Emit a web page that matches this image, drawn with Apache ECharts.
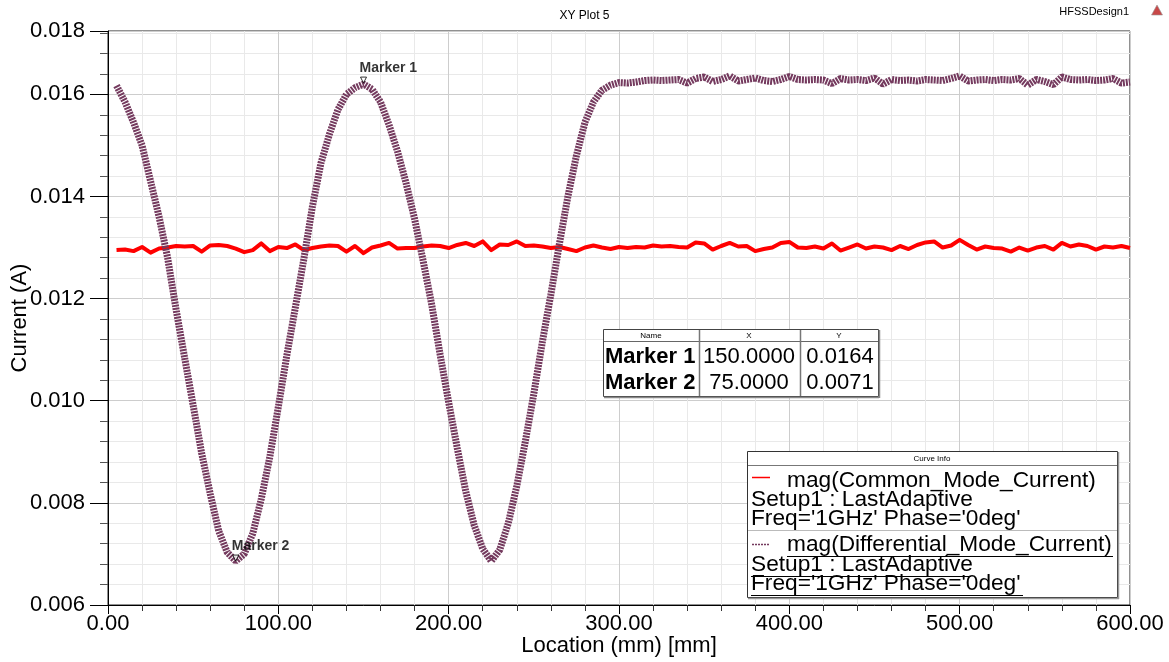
<!DOCTYPE html>
<html><head><meta charset="utf-8">
<script src="https://cdn.jsdelivr.net/npm/echarts@6/dist/echarts.min.js"></script>
<style>html,body{margin:0;padding:0;background:#fff}#c{width:1169px;height:662px}</style>
</head><body><div id="c"></div>
<script>
const locations = [
  5,10,15,20,25,30,35,40,45,50,
  55,60,65,70,75,80,85,90,95,100,
  105,110,115,120,125,130,135,140,145,150,
  155,160,165,170,175,180,185,190,195,200,
  205,210,215,220,225,230,235,240,245,250,
  255,260,265,270,275,280,285,290,295,300,
  305,310,315,320,325,330,335,340,345,350,
  355,360,365,370,375,380,385,390,395,400,
  405,410,415,420,425,430,435,440,445,450,
  455,460,465,470,475,480,485,490,495,500,
  505,510,515,520,525,530,535,540,545,550,
  555,560,565,570,575,580,585,590,595,600
];
const commonMode = [
  0.01295,0.01296,0.01293,0.01301,0.01290,0.01298,0.01300,0.01303,0.01302,0.01303,
  0.01292,0.01304,0.01305,0.01303,0.01298,0.01291,0.01295,0.01308,0.01293,0.01301,
  0.01299,0.01306,0.01295,0.01299,0.01302,0.01304,0.01303,0.01292,0.01303,0.01289,
  0.01300,0.01304,0.01309,0.01298,0.01299,0.01299,0.01302,0.01304,0.01303,0.01299,
  0.01305,0.01309,0.01303,0.01312,0.01295,0.01306,0.01305,0.01312,0.01303,0.01304,
  0.01302,0.01299,0.01301,0.01297,0.01293,0.01300,0.01304,0.01300,0.01297,0.01301,
  0.01299,0.01301,0.01300,0.01304,0.01302,0.01303,0.01301,0.01300,0.01310,0.01308,
  0.01296,0.01303,0.01309,0.01302,0.01303,0.01293,0.01297,0.01300,0.01309,0.01311,
  0.01300,0.01299,0.01302,0.01298,0.01308,0.01294,0.01300,0.01306,0.01298,0.01302,
  0.01300,0.01295,0.01303,0.01297,0.01305,0.01310,0.01312,0.01300,0.01304,0.01315,
  0.01305,0.01296,0.01302,0.01299,0.01298,0.01292,0.01300,0.01294,0.01300,0.01303,
  0.01296,0.01309,0.01302,0.01306,0.01303,0.01296,0.01302,0.01300,0.01303,0.01299
];
const diffMode = [
  0.01617,0.01585,0.01545,0.01500,0.01430,0.01360,0.01280,0.01178,0.01084,0.00991,
  0.00897,0.00818,0.00745,0.00703,0.00686,0.00700,0.00740,0.00808,0.00890,0.00988,
  0.01089,0.01183,0.01278,0.01380,0.01465,0.01522,0.01570,0.01600,0.01613,0.01620,
  0.01610,0.01585,0.01540,0.01488,0.01426,0.01356,0.01274,0.01189,0.01090,0.00997,
  0.00908,0.00823,0.00756,0.00710,0.00686,0.00708,0.00760,0.00833,0.00920,0.01014,
  0.01115,0.01208,0.01307,0.01400,0.01480,0.01545,0.01585,0.01608,0.01618,0.01623,
  0.01622,0.01624,0.01627,0.01628,0.01627,0.01628,0.01629,0.01622,0.01631,0.01634,
  0.01625,0.01629,0.01636,0.01626,0.01629,0.01632,0.01627,0.01625,0.01629,0.01635,
  0.01629,0.01628,0.01629,0.01628,0.01621,0.01631,0.01628,0.01629,0.01627,0.01632,
  0.01620,0.01629,0.01627,0.01628,0.01626,0.01629,0.01628,0.01627,0.01631,0.01636,
  0.01626,0.01628,0.01629,0.01627,0.01629,0.01628,0.01631,0.01618,0.01629,0.01625,
  0.01619,0.01634,0.01629,0.01628,0.01629,0.01627,0.01628,0.01631,0.01622,0.01624
];
const xTickLabels = ['0.00','100.00','200.00','300.00','400.00','500.00','600.00'];
const yTickLabels = ['0.006','0.008','0.010','0.012','0.014','0.016','0.018'];
const xMin = 0, xMax = 600, xStep = 100;
const yMin = 0.006, yMax = 0.01724, yStep = 0.002, yMinorStep = 0.0004;
const markerNames = ['Marker 1','Marker 2'];
const markerX = [150, 75];
const markerY = [0.01622, 0.00686];
const markerTableX = ['150.0000','75.0000'];
const markerTableY = ['0.0164','0.0071'];
const curveNames = ['mag(Common_Mode_Current)','mag(Differential_Mode_Current)'];
const curveInfo = ['Setup1 : LastAdaptive',"Freq='1GHz' Phase='0deg'"];
const titleText = 'XY Plot 5';
const designText = 'HFSSDesign1';
const xName = 'Location (mm) [mm]';
const yName = 'Current (A)';

const FONT = '"Liberation Sans", Arial, Helvetica, sans-serif';
const RED = '#ff0000';
const PURPLE = '#743a5e';

const chart = echarts.init(document.getElementById('c'), null, {renderer: 'canvas'});

function txt(x, y, s, size, opt) {
  return Object.assign({type: 'text', x: x, y: y, z: 100, style: Object.assign({
    text: s, fontSize: size, fontFamily: FONT, fill: '#000',
    textAlign: 'left', textVerticalAlign: 'middle'
  }, opt || {})});
}
function ln(x1, y1, x2, y2, stroke, w, dash) {
  return {type: 'line', z: 100, shape: {x1, y1, x2, y2},
    style: {stroke: stroke, lineWidth: w || 1, lineDash: dash || null}};
}

const graphics = [];
graphics.push(txt(1129, 12, designText, 11, {textAlign: 'right'}));
graphics.push({type: 'polygon', z: 100, shape: {points: [[1157, 5], [1162.5, 15], [1151.5, 15]]},
  style: {fill: '#c84848', stroke: '#999', lineWidth: 0.6}});

// Marker table
graphics.push({type: 'rect', z: 99, shape: {x: 603.5, y: 329.5, width: 275, height: 67},
  style: {fill: '#fff', stroke: '#444', lineWidth: 1}});
graphics.push(ln(604, 397.5, 879, 397.5, '#888', 1.5));
graphics.push(ln(879.5, 330, 879.5, 398, '#888', 1.5));
graphics.push(ln(604, 341.5, 878, 341.5, '#666', 1));
graphics.push(ln(699.5, 330, 699.5, 396, '#777', 1.5));
graphics.push(ln(800.5, 330, 800.5, 396, '#777', 1.5));
graphics.push(txt(651, 336, 'Name', 8, {textAlign: 'center'}));
graphics.push(txt(749, 336, 'X', 8, {textAlign: 'center'}));
graphics.push(txt(839, 336, 'Y', 8, {textAlign: 'center'}));
const rowY = [357, 383];
for (let i = 0; i < markerNames.length; i++) {
  graphics.push(txt(605, rowY[i], markerNames[i], 22, {fontWeight: 'bold'}));
  graphics.push(txt(749, rowY[i], markerTableX[i], 22, {textAlign: 'center'}));
  graphics.push(txt(840, rowY[i], markerTableY[i], 22, {textAlign: 'center'}));
}

// Curve info box
graphics.push({type: 'rect', z: 99, shape: {x: 747.5, y: 451.5, width: 370, height: 146},
  style: {fill: '#fff', stroke: '#333', lineWidth: 1}});
graphics.push(ln(1118.5, 452, 1118.5, 599, '#999', 1.5));
graphics.push(ln(748, 598.5, 1119, 598.5, '#999', 1.5));
graphics.push(ln(748, 465.5, 1117, 465.5, '#777', 1));
graphics.push(txt(932, 458.5, 'Curve Info', 8, {textAlign: 'center'}));
graphics.push(ln(752, 477.5, 770, 477.5, RED, 1.5));
graphics.push(txt(787, 481, curveNames[0], 22.7));
graphics.push(txt(751, 500, curveInfo[0], 22.7));
graphics.push(txt(751, 519, curveInfo[1], 22.7));
graphics.push(ln(748, 530.5, 1117, 530.5, '#bbb', 1));
graphics.push(ln(752, 544.5, 770, 544.5, PURPLE, 1.5, [2, 1]));
graphics.push(txt(787, 545, curveNames[1], 22.7));
graphics.push(ln(787, 556.5, 1113, 556.5, '#000', 1));
graphics.push(txt(751, 565, curveInfo[0], 22.7));
graphics.push(ln(751, 576.5, 971, 576.5, '#000', 1));
graphics.push(txt(751, 584, curveInfo[1], 22.7));
graphics.push(ln(751, 595.5, 1023, 595.5, '#000', 1));

const option = {
  animation: false,
  backgroundColor: '#fff',
  textStyle: {fontFamily: FONT},
  title: {text: titleText, left: 'center', top: 5,
    textStyle: {fontSize: 12, fontWeight: 'normal', color: '#000', fontFamily: FONT}},
  grid: {left: 108, right: 39, top: 31, bottom: 57, containLabel: false,
    outerBoundsMode: 'none',
    show: true, borderColor: '#222', borderWidth: 1, backgroundColor: 'transparent'},
  xAxis: {
    type: 'value', min: xMin, max: xMax, interval: xStep,
    name: xName, nameLocation: 'middle', nameGap: 30, nameMoveOverlap: false,
    nameTextStyle: {fontSize: 22, color: '#000', fontFamily: FONT},
    axisLine: {show: true, lineStyle: {color: '#000', width: 1}},
    axisTick: {show: true, length: 9, lineStyle: {color: '#000'}},
    minorTick: {show: true, splitNumber: 5, length: 6, lineStyle: {color: '#333'}},
    splitLine: {show: true, lineStyle: {color: '#cdcdcd', width: 1}},
    minorSplitLine: {show: true, lineStyle: {color: '#e9e9e9', width: 1}},
    axisLabel: {fontSize: 22, color: '#000', margin: 8, fontFamily: FONT,
      formatter: (v) => xTickLabels[Math.round((v - xMin) / xStep)]}
  },
  yAxis: [{
    type: 'value', position: 'left', min: yMin, max: yMax, interval: yMinorStep,
    axisLine: {show: false},
    axisTick: {show: true, length: 8, lineStyle: {color: '#555'}},
    axisLabel: {show: false},
    splitLine: {show: true, lineStyle: {color: '#e9e9e9', width: 1}}
  }, {
    type: 'value', position: 'left', offset: 0, min: yMin, max: yMax, interval: yStep,
    name: yName, nameLocation: 'middle', nameGap: 77, nameMoveOverlap: false,
    nameTextStyle: {fontSize: 22, color: '#000', fontFamily: FONT},
    axisLine: {show: true, lineStyle: {color: '#000', width: 1}},
    axisTick: {show: true, length: 18, lineStyle: {color: '#000'}},
    splitLine: {show: true, lineStyle: {color: '#cdcdcd', width: 1}},
    axisLabel: {fontSize: 22, color: '#000', margin: 23, fontFamily: FONT,
      showMaxLabel: true, showMinLabel: true,
      formatter: (v) => v > yMax - 0.0005 ? yTickLabels[yTickLabels.length - 1]
        : yTickLabels[Math.round((v - yMin) / yStep)]}
  }],
  series: [{
    name: curveNames[0], type: 'line', yAxisIndex: 1, showSymbol: false, symbol: 'none',
    data: locations.map((x, i) => [x, commonMode[i]]),
    lineStyle: {color: RED, width: 4, join: 'round'}, z: 3
  }, {
    name: curveNames[1], type: 'line', yAxisIndex: 1, showSymbol: false, symbol: 'none',
    data: locations.map((x, i) => [x, diffMode[i]]),
    lineStyle: {color: PURPLE, width: 7, type: [2, 1], cap: 'butt'}, z: 4
  }, {
    name: 'markers', type: 'scatter', yAxisIndex: 1, z: 6,
    symbol: 'triangle', symbolRotate: 180, symbolSize: 6,
    symbolOffset: [0, -3],
    itemStyle: {color: '#fff', borderColor: '#000', borderWidth: 1},
    data: markerX.map((x, i) => ({value: [x, markerY[i]], name: markerNames[i]})),
    label: {show: true, position: 'top', align: 'left', offset: [-4, 0], distance: 1,
      formatter: (p) => p.name, fontSize: 14, fontWeight: 'bold', color: '#000', fontFamily: FONT}
  }],
  graphic: graphics
};
chart.setOption(option);
</script>
</body></html>
